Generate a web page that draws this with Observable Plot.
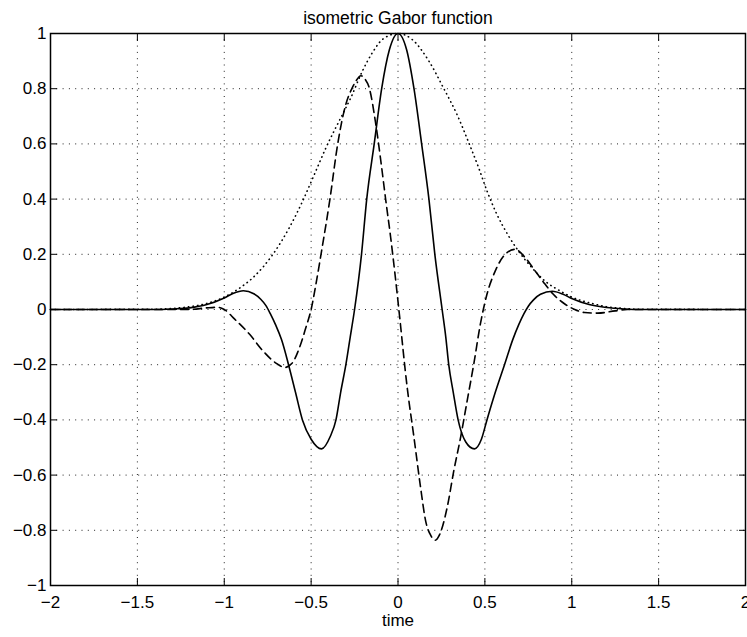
<!DOCTYPE html>
<html>
<head>
<meta charset="utf-8">
<script src="https://cdn.jsdelivr.net/npm/d3@7"></script>
<script src="https://cdn.jsdelivr.net/npm/@observablehq/plot@0.6"></script>
<style>
  html, body { margin: 0; padding: 0; background: #fff; }
  svg { display: block; }
</style>
</head>
<body>
<div id="chart"></div>
<script>
// ---- data ----
const titleText = "isometric Gabor function";
const xLabel = "time";
const xTicks = [-2, -1.5, -1, -0.5, 0, 0.5, 1, 1.5, 2];
const yTicks = [-1, -0.8, -0.6, -0.4, -0.2, 0, 0.2, 0.4, 0.6, 0.8, 1];

// real part (solid)
const realT = [-2, -1.4, -1.3, -1.2, -1.1, -1.0, -0.95, -0.89, -0.83, -0.79, -0.76, -0.735, -0.705, -0.67, -0.63, -0.59, -0.55, -0.5, -0.44, -0.39, -0.357, -0.33, -0.3, -0.275, -0.25, -0.21, -0.18, -0.137, -0.094, -0.05, 0, 0.05, 0.092, 0.136, 0.178, 0.212, 0.254, 0.275, 0.292, 0.318, 0.346, 0.39, 0.44, 0.48, 0.512, 0.56, 0.613, 0.66, 0.695, 0.725, 0.75, 0.78, 0.82, 0.888, 0.95, 1.0, 1.1, 1.2, 1.3, 1.4, 2];
const realV = [0, 0, 0.002, 0.006, 0.018, 0.042, 0.058, 0.068, 0.057, 0.037, 0.014, -0.015, -0.055, -0.11, -0.2, -0.3, -0.4, -0.47, -0.505, -0.46, -0.4, -0.3, -0.2, -0.1, 0, 0.2, 0.4, 0.6, 0.8, 0.94, 1, 0.94, 0.8, 0.6, 0.4, 0.2, 0, -0.1, -0.2, -0.3, -0.4, -0.48, -0.505, -0.47, -0.4, -0.3, -0.2, -0.11, -0.055, -0.015, 0.012, 0.035, 0.055, 0.066, 0.055, 0.04, 0.018, 0.007, 0.002, 0, 0];

// imaginary part (dashed)
const imagT = [-2, -1.2, -1.1, -1.04, -1.0, -0.94, -0.854, -0.78, -0.7, -0.65, -0.61, -0.567, -0.53, -0.5, -0.47, -0.443, -0.391, -0.347, -0.3, -0.262, -0.24, -0.214, -0.19, -0.166, -0.128, -0.099, -0.07, -0.042, -0.013, 0.005, 0.053, 0.092, 0.13, 0.159, 0.19, 0.215, 0.24, 0.283, 0.321, 0.36, 0.398, 0.436, 0.474, 0.512, 0.56, 0.617, 0.674, 0.732, 0.789, 0.846, 0.894, 0.96, 1.017, 1.074, 1.15, 1.25, 1.32, 2];
const imagV = [0, 0, 0.006, 0.008, 0, -0.035, -0.09, -0.148, -0.195, -0.21, -0.195, -0.138, -0.065, 0, 0.1, 0.2, 0.403, 0.6, 0.744, 0.805, 0.83, 0.847, 0.835, 0.804, 0.672, 0.539, 0.394, 0.26, 0.104, 0, -0.283, -0.464, -0.645, -0.766, -0.82, -0.836, -0.815, -0.717, -0.585, -0.464, -0.331, -0.198, -0.053, 0.055, 0.14, 0.2, 0.218, 0.188, 0.14, 0.092, 0.055, 0.02, 0, -0.011, -0.013, -0.005, 0, 0];

// envelope (dotted)
const envT = [-2, -1.4, -1.3, -1.2, -1.1, -1.0, -0.92, -0.834, -0.72, -0.625, -0.548, -0.481, -0.414, -0.338, -0.271, -0.204, -0.147, -0.09, 0, 0.082, 0.178, 0.264, 0.34, 0.407, 0.464, 0.512, 0.569, 0.636, 0.693, 0.77, 0.856, 0.92, 1.0, 1.13, 1.2, 1.3, 1.4, 2];
const envV = [0, 0.001, 0.004, 0.01, 0.022, 0.045, 0.074, 0.116, 0.2, 0.297, 0.394, 0.49, 0.587, 0.684, 0.768, 0.865, 0.931, 0.978, 1, 0.978, 0.9, 0.8, 0.706, 0.605, 0.514, 0.43, 0.345, 0.267, 0.212, 0.152, 0.098, 0.072, 0.045, 0.02, 0.01, 0.004, 0.001, 0];

const toPts = (ts, vs) => ts.map((t, i) => ({t, v: vs[i]}));
const realPts = toPts(realT, realV);
const imagPts = toPts(imagT, imagV);
const envPts = toPts(envT, envV);

const fmt = (d) => (d < 0 ? "\u2212" + String(-d) : String(d));
const font = "'Liberation Sans', Arial, Helvetica, sans-serif";

const tickAxes = [
  Plot.axisX(xTicks, {anchor: "bottom", tickSize: -7, tickFormat: () => "", label: null, strokeWidth: 1}),
  Plot.axisX(xTicks, {anchor: "top", tickSize: -7, tickFormat: () => "", label: null, strokeWidth: 1}),
  Plot.axisY(yTicks, {anchor: "left", tickSize: -7, tickFormat: () => "", label: null, strokeWidth: 1}),
  Plot.axisY(yTicks, {anchor: "right", tickSize: -7, tickFormat: () => "", label: null, strokeWidth: 1})
];

const plot = Plot.plot({
  width: 747,
  height: 637,
  marginLeft: 50,
  marginRight: 2,
  marginTop: 33,
  marginBottom: 52,
  style: {fontFamily: font, background: "#fff", color: "#000"},
  x: {domain: [-2, 2]},
  y: {domain: [-1, 1]},
  marks: [
    Plot.gridX(xTicks.slice(1, -1), {stroke: "#222", strokeOpacity: 1, strokeWidth: 1, strokeDasharray: "1,5.3"}),
    Plot.gridY(yTicks.slice(1, -1), {stroke: "#222", strokeOpacity: 1, strokeWidth: 1, strokeDasharray: "1,5.3"}),
    Plot.line(envPts, {x: "t", y: "v", curve: "monotone-x", stroke: "#000", strokeWidth: 1.6, strokeDasharray: "0.4,4.2", strokeLinecap: "round"}),
    Plot.line(imagPts, {x: "t", y: "v", curve: "monotone-x", stroke: "#000", strokeWidth: 1.6, strokeDasharray: "8,5"}),
    Plot.line(realPts, {x: "t", y: "v", curve: "monotone-x", stroke: "#000", strokeWidth: 1.6}),
    ...tickAxes,
    Plot.axisX(xTicks, {anchor: "bottom", tickSize: 0, tickPadding: 10, tickFormat: fmt, label: null, fontSize: 17}),
    Plot.axisY(yTicks, {anchor: "left", tickSize: 0, tickPadding: 4, tickFormat: fmt, label: null, fontSize: 17}),
    Plot.frame({stroke: "#000", strokeWidth: 1.5}),
    Plot.text([titleText], {frameAnchor: "top", dy: -22, fontSize: 17.5, fill: "#000"}),
    Plot.text([xLabel], {frameAnchor: "bottom", dy: 40, fontSize: 17, fill: "#000"})
  ]
});

document.getElementById("chart").appendChild(plot);
</script>
</body>
</html>
